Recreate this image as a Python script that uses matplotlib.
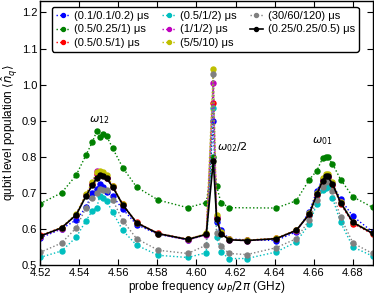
import numpy as np
import matplotlib
matplotlib.use("Agg")
import matplotlib.pyplot as plt

plt.rcParams['font.family'] = ['Liberation Sans', 'DejaVu Sans']
plt.rcParams['mathtext.fontset'] = 'dejavusans'

freq = [4.520, 4.531, 4.5385, 4.5435, 4.5467, 4.549, 4.5505, 4.5522, 4.554, 4.5572,
        4.5623, 4.5694, 4.5805, 4.5955, 4.605, 4.6086, 4.6103, 4.6125, 4.6168, 4.6257,
        4.6407, 4.651, 4.6577, 4.6615, 4.6645, 4.666, 4.667, 4.6695, 4.6737, 4.680, 4.690]

freq_green = [4.520, 4.531, 4.5385, 4.5435, 4.5467, 4.549, 4.5505, 4.5522, 4.554, 4.5572,
              4.5623, 4.5694, 4.5805, 4.5955, 4.605, 4.6086, 4.6103, 4.6125, 4.6168,
              4.6407, 4.651, 4.6577, 4.6615, 4.6645, 4.666, 4.667, 4.6695, 4.6737, 4.680, 4.690]

labels = ['(0.1/0.1/0.2) μs', '(0.5/0.25/1) μs', '(0.5/0.5/1) μs',
          '(0.5/1/2) μs', '(1/1/2) μs', '(5/5/10) μs',
          '(30/60/120) μs', '(0.25/0.25/0.5) μs']

blue = [0.575, 0.600, 0.625, 0.660, 0.700, 0.712, 0.725, 0.715, 0.702, 0.690,
        0.655, 0.612, 0.585, 0.570, 0.585, 0.900, 0.620, 0.597, 0.572, 0.570,
        0.568, 0.592, 0.648, 0.705, 0.738, 0.745, 0.745, 0.725, 0.682, 0.635, 0.592]
green = [0.670, 0.700, 0.749, 0.805, 0.840, 0.871, 0.854, 0.863, 0.858, 0.823,
         0.770, 0.716, 0.680, 0.659, 0.673, 0.800, 0.719, 0.673, 0.659,
         0.658, 0.678, 0.737, 0.761, 0.796, 0.799, 0.799, 0.781, 0.737, 0.689, 0.660]
red = [0.582, 0.604, 0.640, 0.695, 0.725, 0.752, 0.755, 0.750, 0.742, 0.718,
       0.668, 0.618, 0.588, 0.572, 0.586, 0.950, 0.630, 0.588, 0.571, 0.569,
       0.574, 0.597, 0.640, 0.694, 0.732, 0.744, 0.745, 0.722, 0.670, 0.615, 0.586]
cyan = [0.521, 0.539, 0.577, 0.623, 0.650, 0.659, 0.690, 0.685, 0.678, 0.646,
        0.596, 0.555, 0.527, 0.521, 0.534, 0.935, 0.577, 0.536, 0.518, 0.518,
        0.536, 0.564, 0.614, 0.669, 0.709, 0.714, 0.720, 0.687, 0.618, 0.550, 0.525]
magenta = [0.578, 0.601, 0.640, 0.694, 0.726, 0.760, 0.752, 0.749, 0.742, 0.717,
           0.666, 0.616, 0.586, 0.569, 0.584, 1.005, 0.632, 0.588, 0.570, 0.567,
           0.573, 0.595, 0.641, 0.697, 0.736, 0.747, 0.747, 0.726, 0.674, 0.618, 0.588]
yellow = [0.580, 0.604, 0.642, 0.697, 0.730, 0.758, 0.762, 0.758, 0.750, 0.720,
          0.668, 0.617, 0.587, 0.571, 0.588, 1.044, 0.640, 0.592, 0.571, 0.569,
          0.574, 0.597, 0.643, 0.700, 0.740, 0.752, 0.752, 0.730, 0.676, 0.620, 0.590]
gray = [0.535, 0.561, 0.603, 0.659, 0.687, 0.700, 0.712, 0.707, 0.707, 0.680,
        0.623, 0.573, 0.541, 0.532, 0.555, 1.030, 0.590, 0.552, 0.532, 0.529,
        0.548, 0.573, 0.625, 0.680, 0.715, 0.730, 0.732, 0.705, 0.632, 0.561, 0.532]
black = [0.580, 0.603, 0.639, 0.691, 0.721, 0.741, 0.750, 0.748, 0.741, 0.716,
         0.667, 0.617, 0.587, 0.571, 0.585, 0.789, 0.628, 0.587, 0.570, 0.568,
         0.573, 0.596, 0.641, 0.696, 0.734, 0.746, 0.746, 0.725, 0.673, 0.618, 0.588]

xticks = [4.52, 4.54, 4.56, 4.58, 4.60, 4.62, 4.64, 4.66, 4.68]
yticks = [0.5, 0.6, 0.7, 0.8, 0.9, 1.0, 1.1, 1.2]

fig = plt.figure(figsize=(3.74, 3.05), dpi=100)
ax = fig.add_axes([0.107, 0.131, 0.889, 0.866])

series = [(freq, blue, '#0000ff'), (freq_green, green, '#008000'), (freq, red, '#ff0000'),
          (freq, cyan, '#00bfbf'), (freq, magenta, '#bf00bf'), (freq, yellow, '#bfbf00'),
          (freq, gray, '#808080')]
for (fx, vals, col), lab in zip(series, labels[:7]):
    ax.plot(fx, vals, linestyle=(0, (1, 1.6)), color=col, lw=1.0, marker='o', ms=3.6,
            mec=col, mfc=col, label=lab)
ax.plot(freq, black, '-', color='black', lw=1.2, marker='o', ms=3.6, label=labels[7], zorder=5)

ax.set_xlim(4.52, 4.69)
ax.set_ylim(0.5, 1.232)
ax.set_xticks(xticks)
ax.set_xticklabels([f'{t:.2f}' for t in xticks])
ax.set_yticks(yticks)
ax.set_yticklabels([f'{t:.1f}' for t in yticks])
ax.tick_params(direction='in', top=True, right=True, labelsize=8, length=4, width=0.8, pad=2)
for s in ax.spines.values():
    s.set_linewidth(1.0)

ax.set_xlabel(r'probe frequency $\omega_P/2\pi$ (GHz)', fontsize=8.5, labelpad=1)
ax.set_ylabel(r'qubit level population $\langle \hat{n}_q \rangle$', fontsize=8.5, labelpad=2)

ax.text(4.5503, 0.885, r'$\omega_{12}$', fontsize=8, ha='center', va='bottom')
ax.text(4.6105, 0.808, r'$\omega_{02}/2$', fontsize=8, ha='left', va='bottom')
ax.text(4.6642, 0.828, r'$\omega_{01}$', fontsize=8, ha='center', va='bottom')

leg = ax.legend(loc='upper center', ncol=3, fontsize=8, frameon=True, fancybox=True,
                handlelength=1.2, handletextpad=0.4, columnspacing=1.2, labelspacing=0.3,
                borderpad=0.35, markerscale=0.8, bbox_to_anchor=(0.497, 0.997))
leg.get_frame().set_edgecolor('black')
leg.get_frame().set_linewidth(1.0)
leg.get_frame().set_alpha(1.0)

fig.savefig('out.png', dpi=100)
